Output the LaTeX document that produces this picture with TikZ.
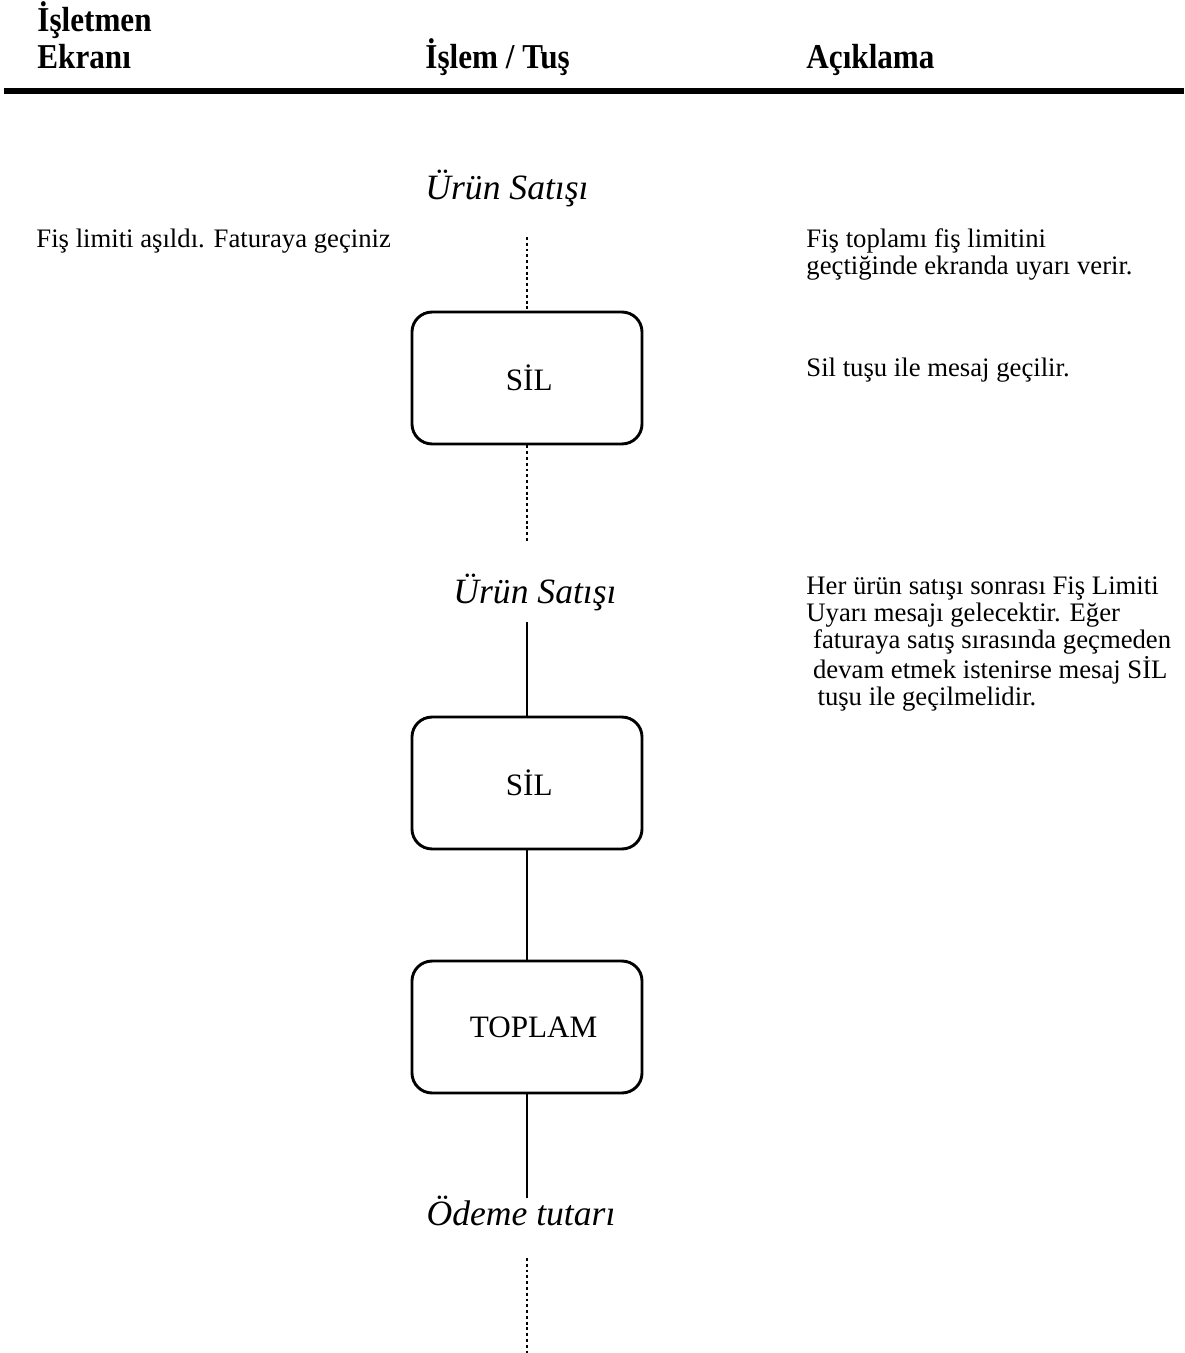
\documentclass[tikz,border=0pt]{standalone}
\usepackage{fontspec}
\usepackage{graphicx}
\setmainfont{Liberation Serif}

\newcommand{\uzunbaslik}[1]{\scalebox{1}[1.12]{#1}}
\newcommand{\kutuyazi}[1]{\raisebox{-1.4pt}{#1}}

\tikzset{
  baslik/.style={anchor=base west, inner sep=0pt, font=\fontsize{14}{14}\selectfont\bfseries},
  yazi/.style={anchor=base west, inner sep=0pt, align=left, font=\fontsize{12}{12}\selectfont},
  etiket/.style={anchor=base, inner sep=0pt, font=\fontsize{16}{16}\selectfont\itshape},
  kutu/.style={draw, line width=1.3pt, rounded corners=9pt, minimum width=103.4pt,
    minimum height=59.3pt, inner sep=0pt, font=\fontsize{14}{14}\selectfont},
  cizgi/.style={line width=1.3pt},
  nokta/.style={line width=1.3pt, dash pattern=on 1.3pt off 1.3pt}
}

\begin{document}
\begin{tikzpicture}[x=0.4495pt, y=-0.4495pt]

\useasboundingbox (0,0) rectangle (1184,1353);

\draw (37,32) node[baslik] (ekran1) {\uzunbaslik{İşletmen}};

\draw (37,69) node[baslik] (ekran2) {\uzunbaslik{Ekranı}};

\draw (425,69) node[baslik] (islem) {\uzunbaslik{İşlem / Tuş}};

\draw (806,69) node[baslik] (aciklama) {\uzunbaslik{Açıklama}};

\draw[line width=2.3pt] (4,91) -- (1184,91);

\draw (507,200) node[etiket] (urun1) {Ürün Satışı};

\draw (36,247) node[yazi] (uyari) {Fiş limiti aşıldı. Faturaya geçiniz};

\draw (806,274) node[yazi] (acik1) {Fiş toplamı fiş limitini\\geçtiğinde ekranda uyarı verir.};

\draw (806,376) node[yazi] (acik2) {Sil tuşu ile mesaj geçilir.};

\draw (527,378) node[kutu] (sil1) {\kutuyazi{\hspace*{2pt}SİL}};

\coordinate (ust1) at (527,237);

\coordinate (alt1) at (527,541);

\draw[nokta] (ust1) -- (sil1.north);

\draw[nokta] (sil1.south) -- (alt1);

\draw (535,603) node[etiket] (urun2) {Ürün Satışı};

\draw (806,705) node[yazi] (acik3) {Her ürün satışı sonrası Fiş Limiti\\Uyarı mesajı gelecektir. Eğer\\\ faturaya satış sırasında geçmeden\\\ devam etmek istenirse mesaj SİL\\\ \,tuşu ile geçilmelidir.};

\coordinate (ust2) at (527,622);

\draw (527,783) node[kutu] (sil2) {\kutuyazi{\hspace*{2pt}SİL}};

\draw (527,1027) node[kutu] (toplam) {\kutuyazi{\hspace*{6pt}TOPLAM}};

\draw[cizgi] (ust2) -- (sil2.north);

\draw[cizgi] (sil2.south) -- (toplam.north);

\coordinate (alt3) at (527,1198);

\draw[cizgi] (toplam.south) -- (alt3);

\draw (521,1225) node[etiket] (odeme) {Ödeme tutarı};

\coordinate (ust4) at (527,1258);

\coordinate (alt4) at (527,1353);

\draw[nokta] (ust4) -- (alt4);

\end{tikzpicture}
\end{document}
